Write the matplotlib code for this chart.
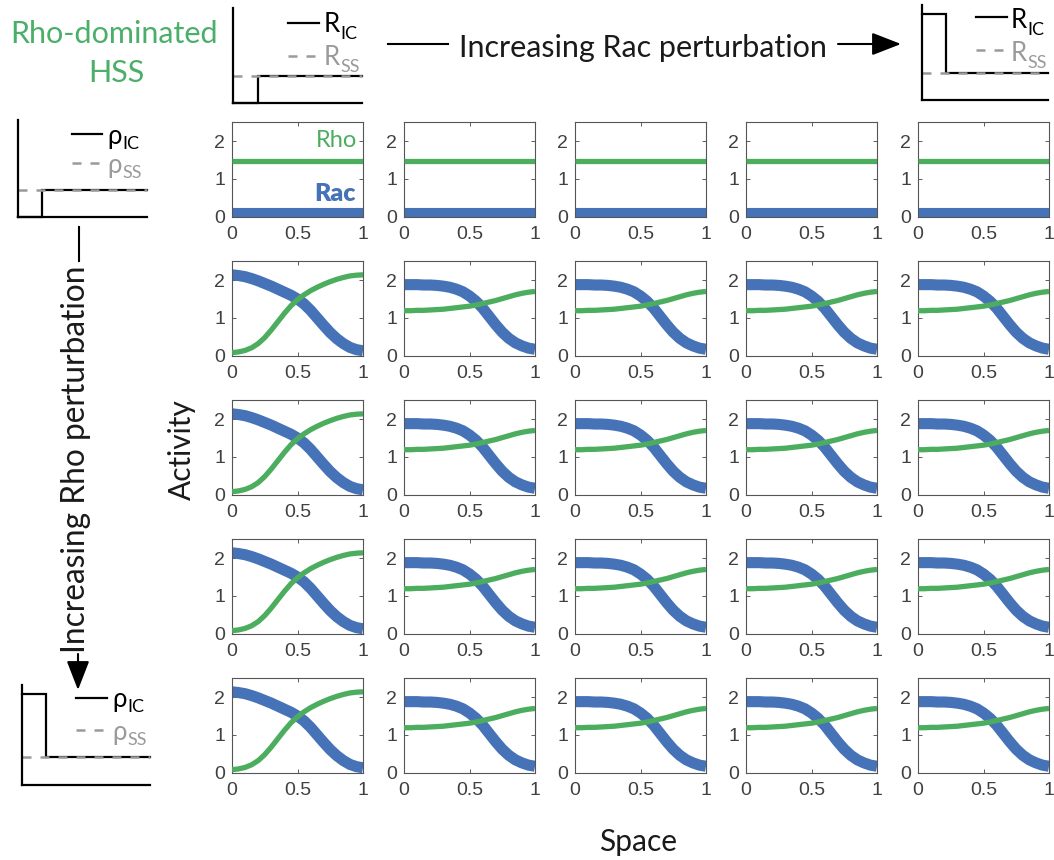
import numpy as np
import matplotlib
matplotlib.use('Agg')
import matplotlib.pyplot as plt

# ---------------- data ----------------
space = [0.00, 0.05, 0.10, 0.15, 0.20, 0.25, 0.30, 0.35, 0.40, 0.45, 0.50,
         0.55, 0.60, 0.65, 0.70, 0.75, 0.80, 0.85, 0.90, 0.95, 1.00]

# first column (rows 2-5)
rac_col1 = [2.14, 2.12, 2.09, 2.04, 1.98, 1.91, 1.84, 1.76, 1.68, 1.60, 1.50,
            1.37, 1.20, 1.00, 0.80, 0.61, 0.45, 0.32, 0.22, 0.16, 0.13]
rho_col1 = [0.08, 0.10, 0.14, 0.21, 0.32, 0.48, 0.68, 0.90, 1.12, 1.32, 1.48,
            1.61, 1.72, 1.81, 1.89, 1.96, 2.02, 2.07, 2.11, 2.13, 2.14]
# other columns (rows 2-5)
rac_other = [1.88, 1.88, 1.88, 1.87, 1.87, 1.86, 1.84, 1.81, 1.76, 1.69, 1.58,
             1.44, 1.26, 1.04, 0.82, 0.62, 0.46, 0.34, 0.26, 0.20, 0.17]
rho_other = [1.19, 1.19, 1.20, 1.20, 1.21, 1.22, 1.23, 1.25, 1.27, 1.29, 1.31,
             1.34, 1.38, 1.42, 1.46, 1.51, 1.56, 1.61, 1.65, 1.68, 1.70]
# first row: homogeneous steady state
hss_space = [0.0, 1.0]
hss_rho = [1.47, 1.47]
hss_rac = [0.10, 0.10]

xticks = [0, 0.5, 1]
xtick_labels = ['0', '0.5', '1']
yticks = [0, 1, 2]
ytick_labels = ['0', '1', '2']

# schematic insets (step initial condition vs steady state)
step_x = [0.0, 0.19, 0.19, 1.0]
ic_low = [0.0, 0.0, 0.28, 0.28]
ic_high = [0.91, 0.91, 0.28, 0.28]
ss_x = [0.0, 1.0]
ss_y = [0.28, 0.28]

# ---------------- style ----------------
W, H = 1054, 860
plt.rcParams['font.family'] = ['Liberation Sans', 'DejaVu Sans']
FONT = ['Lato', 'DejaVu Sans']
BLUE = '#4672b7'
GREEN = '#4cad5f'
TGREEN = '#4caf69'
GREY = '#9a9a9a'

fig = plt.figure(figsize=(W / 100, H / 100), dpi=100)


def fx(x):
    return x / W


def fy(y):
    return 1 - y / H


col_left = [232, 404, 575, 746, 918]
row_bottom = [216.7, 355.7, 494.7, 633.7, 772.7]
AX_W, AX_H = 131, 94.5

for r in range(5):
    for c in range(5):
        ax = fig.add_axes([fx(col_left[c]), fy(row_bottom[r]), AX_W / W, AX_H / H])
        if r == 0:
            ax.plot(hss_space, hss_rac, color=BLUE, lw=8, solid_capstyle='butt', zorder=2)
            ax.plot(hss_space, hss_rho, color=GREEN, lw=3.8, solid_capstyle='butt', zorder=3)
        elif c == 0:
            ax.plot(space, rac_col1, color=BLUE, lw=8, solid_capstyle='butt', zorder=2)
            ax.plot(space, rho_col1, color=GREEN, lw=3.8, solid_capstyle='butt', zorder=3)
        else:
            ax.plot(space, rac_other, color=BLUE, lw=8, solid_capstyle='butt', zorder=2)
            ax.plot(space, rho_other, color=GREEN, lw=3.8, solid_capstyle='butt', zorder=3)
        ax.set_xlim(0, 1)
        ax.set_ylim(0, 2.5)
        ax.set_xticks(xticks)
        ax.set_xticklabels(xtick_labels)
        ax.set_yticks(yticks)
        ax.set_yticklabels(ytick_labels)
        ax.tick_params(direction='in', top=True, right=True, length=3, width=0.6,
                       colors='#444444', labelcolor='#404040', labelsize=14)
        ax.tick_params(axis='x', pad=7)
        ax.tick_params(axis='y', pad=5)
        for sp in ax.spines.values():
            sp.set_color('#555555')
            sp.set_linewidth(0.8)
        if r == 0 and c == 0:
            ax.text(0.955, 1.85, 'Rho', color=GREEN, fontsize=17, family=FONT,
                    ha='right', va='baseline', transform=ax.get_yaxis_transform())
            ax.text(0.945, 0.42, 'Rac', color=BLUE, fontsize=18, family=FONT,
                    fontweight='heavy', ha='right', va='baseline',
                    transform=ax.get_yaxis_transform())


def inset(l, r, t, b, ic):
    ax = fig.add_axes([fx(l), fy(b), (r - l) / W, (b - t) / H])
    ax.patch.set_visible(False)
    ax.set_xlim(0, 1)
    ax.set_ylim(0, 1)
    ax.set_xticks([])
    ax.set_yticks([])
    for k in ('top', 'right'):
        ax.spines[k].set_visible(False)
    for k in ('left', 'bottom'):
        ax.spines[k].set_color('black')
        ax.spines[k].set_linewidth(1.6)
    ax.plot(step_x, ic, color='black', lw=1.6, clip_on=False, solid_joinstyle='miter')
    ax.plot(ss_x, ss_y, color=GREY, lw=1.8, dashes=(3.6, 3.6), clip_on=False)
    return ax


inset(233, 362, 8, 103, ic_low)
inset(921.7, 1048, 5, 100, ic_high)
inset(18, 146.7, 120, 216.7, ic_low)
inset(21.7, 150, 685, 785, ic_high)

# overlay in pixel coordinates for annotations
ov = fig.add_axes([0, 0, 1, 1], zorder=10)
ov.set_xlim(0, W)
ov.set_ylim(H, 0)
ov.axis('off')


def legend_entry(x0, x1, ly, tx, base, main, sub, color, dashed, sub_dy=7):
    if dashed:
        ov.plot([x0, x1], [ly, ly], color=color, lw=1.8, dashes=(3.6, 3.6))
    else:
        ov.plot([x0, x1], [ly, ly], color=color, lw=1.6)
    t = ov.text(tx, base, main, fontsize=18.5, family=FONT, color=color,
                ha='left', va='baseline')
    ov.annotate(sub, xy=(1.0, base + sub_dy), xycoords=(t, 'data'),
                xytext=(0.5, 0), textcoords='offset points',
                fontsize=13, family=FONT, color=color, ha='left', va='baseline')


# top-left inset legend
legend_entry(288, 319, 23, 324, 32, 'R', 'IC', 'black', False)
legend_entry(288, 319, 56, 324, 65, 'R', 'SS', GREY, True)
# top-right inset legend
legend_entry(976, 1007, 17, 1011, 28, 'R', 'IC', 'black', False)
legend_entry(976, 1007, 50, 1011, 61, 'R', 'SS', GREY, True)
# left-top inset legend
legend_entry(72, 102, 134, 107, 144, 'ρ', 'IC', 'black', False, sub_dy=5)
legend_entry(72, 102, 163, 107, 173, 'ρ', 'SS', GREY, True, sub_dy=5)
# left-bottom inset legend
legend_entry(76, 107, 698, 112, 707, 'ρ', 'IC', 'black', False, sub_dy=5)
legend_entry(76, 107, 730, 112, 740, 'ρ', 'SS', GREY, True, sub_dy=5)

# titles
ov.text(114, 43, 'Rho-dominated', fontsize=22, family=FONT, color=TGREEN,
        ha='center', va='baseline')
ov.text(116, 82, 'HSS', fontsize=22, family=FONT, color=TGREEN,
        ha='center', va='baseline')

ov.text(459, 57, 'Increasing Rac perturbation', fontsize=22, family=FONT,
        color='#1a1a1a', ha='left', va='baseline')
ov.plot([388, 448], [44, 44], color='black', lw=1.5)
ov.annotate('', xy=(901, 44), xytext=(838, 44),
            arrowprops=dict(arrowstyle='-|>,head_length=0.9,head_width=0.35',
                            color='black', lw=1.5, mutation_scale=20,
                            shrinkA=0, shrinkB=0))

ov.text(85, 653, 'Increasing Rho perturbation', fontsize=22.8, family=FONT,
        color='#1a1a1a', ha='left', va='baseline', rotation=90,
        rotation_mode='anchor')
ov.plot([79, 79], [227, 261], color='black', lw=1.5)
ov.annotate('', xy=(78, 690), xytext=(78, 654),
            arrowprops=dict(arrowstyle='-|>,head_length=0.9,head_width=0.35',
                            color='black', lw=1.5, mutation_scale=20,
                            shrinkA=0, shrinkB=0))

ov.text(191, 450, 'Activity', fontsize=21.5, family=FONT, color='#1a1a1a',
        ha='center', va='baseline', rotation=90, rotation_mode='anchor')
ov.text(638, 851, 'Space', fontsize=21.5, family=FONT, color='#1a1a1a',
        ha='center', va='baseline')

fig.savefig('out.png', dpi=100)
